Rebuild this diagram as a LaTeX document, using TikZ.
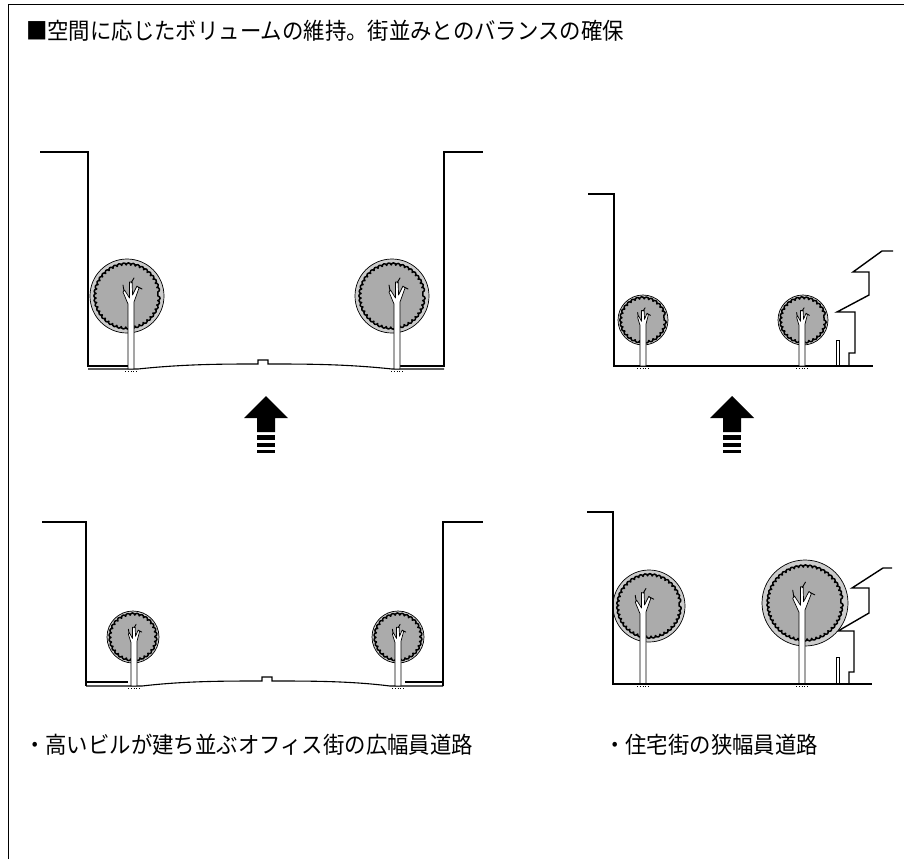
\documentclass[tikz,border=0pt]{standalone}
\usepackage{fontspec}
\newfontfamily\jp[FakeStretch=0.93]{Noto Sans CJK JP}
\usetikzlibrary{decorations.pathmorphing}

\tikzset{
  wall/.style={line width=1.6pt, line join=miter},
  groundline/.style={line width=1.1pt},
  houseline/.style={line width=1.4pt, line join=miter},
  canopy/.style={fill=black!20, draw=black, line width=0.7pt},
  crown/.style={fill=black!33, draw=black, line width=1.5pt, line join=round, decorate,
    decoration={bumps, amplitude=2.4pt, segment length=9pt}},
  trunk/.style={fill=white, draw=black, line width=0.7pt, line join=round},
  twig/.style={line width=0.9pt, line cap=round},
  jptext/.style={font=\jp\fontsize{23}{26}\selectfont, anchor=west, inner sep=0pt},
  bigarrow/.style={fill=black},
}

% street tree: centre x, centre y, canopy radius, trunk x, ground y
\newcommand\streettree[5]{%
  \pgfmathsetmacro\tk{#3/37}%
  \pgfmathsetmacro\cr{0.83*#3}%
  \filldraw[canopy] (#1,#2) circle (#3pt);
  \path[crown] (#1+\cr,#2) arc[start angle=0, end angle=-360, radius=\cr pt] -- cycle;
  \filldraw[trunk] (#4-3,#5) -- (#4-3,#2+8*\tk) -- (#4-8*\tk,#2-4*\tk)
    -- (#4-6.5*\tk,#2-6*\tk) -- (#4-1.5,#2+2*\tk) -- (#4-1.5,#2-14*\tk)
    -- (#4+1.2,#2-14*\tk) -- (#4+1.5,#2-1*\tk) -- (#4+6*\tk,#2-10*\tk)
    -- (#4+8*\tk,#2-8*\tk) -- (#4+3,#2+6*\tk) -- (#4+3,#5) -- cycle;
  \draw[twig] (#4-7*\tk,#2-5*\tk) -- (#4-8*\tk,#2-11*\tk);
  \draw[twig] (#4+7*\tk,#2-9*\tk) -- (#4+11*\tk,#2-7*\tk);
  \draw[twig] (#4,#2-13*\tk) -- (#4+3*\tk,#2-18*\tk);
  \draw[dotted, line width=0.8pt] (#4-6,#5+2.5) -- (#4+6,#5+2.5);
}

% striped up arrow: axis x
\newcommand\stripearrow[1]{%
  \fill[bigarrow] (#1-22,418) -- (#1,396) -- (#1+22,418) -- (#1+9,418)
    -- (#1+9,432) -- (#1-9,432) -- (#1-9,418) -- cycle;
  \fill[bigarrow] (#1-9,435) rectangle (#1+9,440);
  \fill[bigarrow] (#1-9,443) rectangle (#1+9,447);
  \fill[bigarrow] (#1-9,450) rectangle (#1+9,453);
}

\begin{document}
\begin{tikzpicture}[x=1pt, y=-1pt]
\useasboundingbox (0,0) rectangle (904,859);
\fill[white] (0,0) rectangle (904,859);

% frame
\draw[line width=1pt] (8,859) -- (8,5) -- (904,5);

% heading
\node[jptext] (title) at (26,31) {■空間に応じたボリュームの維持。街並みとのバランスの確保};

% ---------- wide road, upper section ----------
\draw[wall] (40,152) -- (88,152) -- (88,367);
\draw[wall] (444,367) -- (444,152) -- (483,152);
\draw[groundline] (88,366) -- (128,366);
\draw[groundline] (88,369) -- (138,369) .. controls (185,364) and (225,364) .. (258,364)
  -- (258,360) -- (268,360) -- (268,364)
  .. controls (305,364) and (345,364) .. (392,369) -- (444,369);
\draw[groundline] (400,366) -- (444,366);
\streettree{127}{296}{37}{131}{369}
\streettree{392}{296}{37}{397}{369}

% ---------- wide road, lower section ----------
\draw[wall] (42,522) -- (86,522) -- (86,686);
\draw[wall] (443,686) -- (443,522) -- (483,522);
\draw[groundline] (86,682) -- (128,682);
\draw[groundline] (86,686) -- (142,686) .. controls (185,681) and (225,681) .. (262,681)
  -- (262,677) -- (272,677) -- (272,681)
  .. controls (310,681) and (350,681) .. (390,686) -- (443,686);
\draw[groundline] (405,682) -- (443,682);
\streettree{133}{637}{26}{134}{686}
\streettree{398}{637}{26}{398}{686}

% ---------- narrow road, upper section ----------
\draw[wall] (588,194) -- (614,194) -- (614,367);
\draw[groundline] (614,366) -- (873,366);
\draw[houseline] (893,251) -- (882,251) -- (853,272) -- (869,272) -- (869,295)
  -- (837,312) -- (855,312) -- (855,353) -- (849,353) -- (849,366);
\draw[line width=0.6pt] (836,340) rectangle (839,366);
\streettree{643}{320}{25}{643}{366}
\streettree{803}{320}{25}{802}{366}

% ---------- narrow road, lower section ----------
\draw[houseline] (892,568) -- (883,568) -- (852,588) -- (869,588) -- (869,613)
  -- (838,631) -- (854,631) -- (854,672) -- (849,672) -- (849,684);
\draw[line width=0.6pt] (836,657) rectangle (839,684);
\streettree{649}{606}{36}{643}{684}
\streettree{805}{603}{43}{802}{684}
\draw[wall] (587,512) -- (613,512) -- (613,685);
\draw[groundline] (613,684) -- (872,684);

% arrows between sections
\stripearrow{266}
\stripearrow{732}

% captions
\node[jptext] (capwide) at (24,745) {・高いビルが建ち並ぶオフィス街の広幅員道路};
\node[jptext] (capnarrow) at (604,745) {・住宅街の狭幅員道路};
\end{tikzpicture}
\end{document}
